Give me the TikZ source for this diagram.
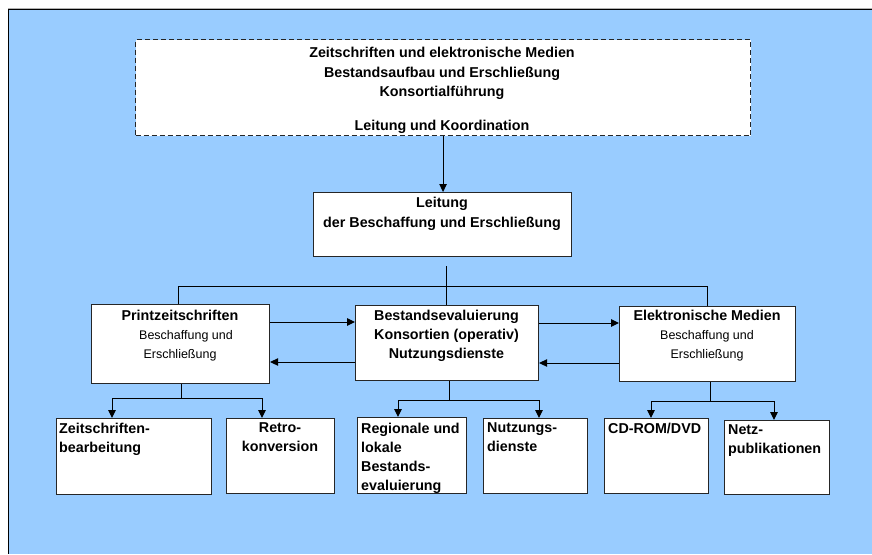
\documentclass[tikz,border=0pt]{standalone}
\usepackage{fontspec}
\setmainfont{Liberation Sans}
\usetikzlibrary{arrows.meta}
\definecolor{bgblue}{HTML}{99CCFF}
\newcommand{\rgline}[1]{{\mdseries\fontsize{12.5}{18.7}\selectfont #1}}
\begin{document}
\begin{tikzpicture}[x=1pt,y=-1pt,
  box/.style={draw=black!85, line width=1.1pt, fill=white, inner sep=0pt, anchor=north west},
  dashbox/.style={box, dash pattern=on 5pt off 3pt},
  txt/.style={inner sep=0pt, text=black, font=\fontsize{14.3}{19}\selectfont\bfseries},
  midtxt/.style={txt, anchor=north, align=center, font=\fontsize{14.3}{18.7}\selectfont\bfseries},
  lefttxt/.style={txt, anchor=north west, align=left},
  conn/.style={line width=1pt, black},
  arr/.style={conn, -{Triangle[length=8pt,width=7.5pt]}}]
\useasboundingbox (0,0) rectangle (872,554);
% frame and background
\fill[white] (0,0) rectangle (872,554);
\fill[bgblue] (8,9) rectangle (872,554);
\draw[gray!60, line width=1pt] (8,8) -- (872,8);
\draw[black, line width=1pt] (8,9.5) -- (872,9.5);
\draw[black, line width=1pt] (8.5,9) -- (8.5,554);

% boxes
\node[dashbox, minimum width=615pt, minimum height=96pt] (top) at (135,39) {};
\node[box, minimum width=258pt, minimum height=64pt] (lead) at (313,192) {};
\node[box, minimum width=178pt, minimum height=79pt] (print) at (91,304) {};
\node[box, minimum width=183pt, minimum height=75pt] (mid) at (355,305) {};
\node[box, minimum width=176pt, minimum height=75pt] (elek) at (619,306) {};
\node[box, minimum width=155pt, minimum height=76pt] (zeit) at (56,418) {};
\node[box, minimum width=108pt, minimum height=75pt] (retro) at (226,418) {};
\node[box, minimum width=109pt, minimum height=76pt] (reg) at (357,417) {};
\node[box, minimum width=104pt, minimum height=75pt] (nutz) at (483,418) {};
\node[box, minimum width=104pt, minimum height=75pt] (cd) at (604,418) {};
\node[box, minimum width=105pt, minimum height=74pt] (netz) at (724,420) {};

% texts
\node[txt, anchor=north, align=center, font=\fontsize{14.3}{19.5}\selectfont\bfseries] (toptxt) at (442,47.4)
  {Zeitschriften und elektronische Medien\\Bestandsaufbau und Erschließung\\Konsortialführung\\[13.8pt]Leitung und Koordination};
\node[txt, anchor=north, align=center, font=\fontsize{14.3}{20}\selectfont\bfseries] (leadtxt) at (442,196.7)
  {Leitung\\der Beschaffung und Erschließung};
\node[midtxt] (printtxt) at (180,310.2) {Printzeitschriften\\\rgline{\hspace*{12pt}Beschaffung und}\\\rgline{Erschließung}};
\node[midtxt] (midtxt) at (446.5,310.2) {Bestandsevaluierung\\Konsortien (operativ)\\Nutzungsdienste};
\node[midtxt] (elektxt) at (707,310.2) {Elektronische Medien\\\rgline{Beschaffung und}\\\rgline{Erschließung}};
\node[lefttxt] (zeittxt) at (59,422.7) {Zeitschriften-\\bearbeitung};
\node[txt, anchor=north, align=center] (retrotxt) at (280,422.7) {Retro-\\konversion};
\node[lefttxt] (regtxt) at (361,422.7) {Regionale und\\lokale\\Bestands-\\evaluierung};
\node[lefttxt] (nutztxt) at (487,422.7) {Nutzungs-\\dienste};
\node[lefttxt] (cdtxt) at (608,422.7) {CD-ROM/DVD};
\node[lefttxt] (netztxt) at (728,424.7) {Netz-\\publikationen};

% connectors: top to leitung
\draw[arr] (top.south) -- (top.south |- lead.north);
% distribution line
\coordinate (j0) at (446,266);
\coordinate (pl) at (178,286);
\coordinate (pr) at (707,286);
\draw[conn] (j0) -- (j0 |- mid.north);
\draw[conn] (pl |- print.north) -- (pl) -- (pr) -- (pr |- elek.north);
% horizontal arrows between level-2 boxes
\draw[arr] (print.east |- 0,322) -- (mid.west |- 0,322);
\draw[arr] (mid.west |- 0,362) -- (print.east |- 0,362);
\draw[arr] (mid.east |- 0,323) -- (elek.west |- 0,323);
\draw[arr] (elek.west |- 0,363) -- (mid.east |- 0,363);
% print subtree
\coordinate (pj) at (181,398);
\coordinate (pa) at (112,398);
\coordinate (pb) at (262,398);
\draw[conn] (pj |- print.south) -- (pj);
\draw[arr] (pj) -- (pa) -- (pa |- zeit.north);
\draw[arr] (pj) -- (pb) -- (pb |- retro.north);
% mid subtree
\coordinate (mj) at (449,400);
\coordinate (ma) at (398,400);
\coordinate (mb) at (539,400);
\draw[conn] (mj |- mid.south) -- (mj);
\draw[arr] (mj) -- (ma) -- (ma |- reg.north);
\draw[arr] (mj) -- (mb) -- (mb |- nutz.north);
% elek subtree
\coordinate (ej) at (710,401);
\coordinate (ea) at (651,401);
\coordinate (eb) at (774,401);
\draw[conn] (ej |- elek.south) -- (ej);
\draw[arr] (ej) -- (ea) -- (ea |- cd.north);
\draw[arr] (ej) -- (eb) -- (eb |- netz.north);
\end{tikzpicture}
\end{document}
